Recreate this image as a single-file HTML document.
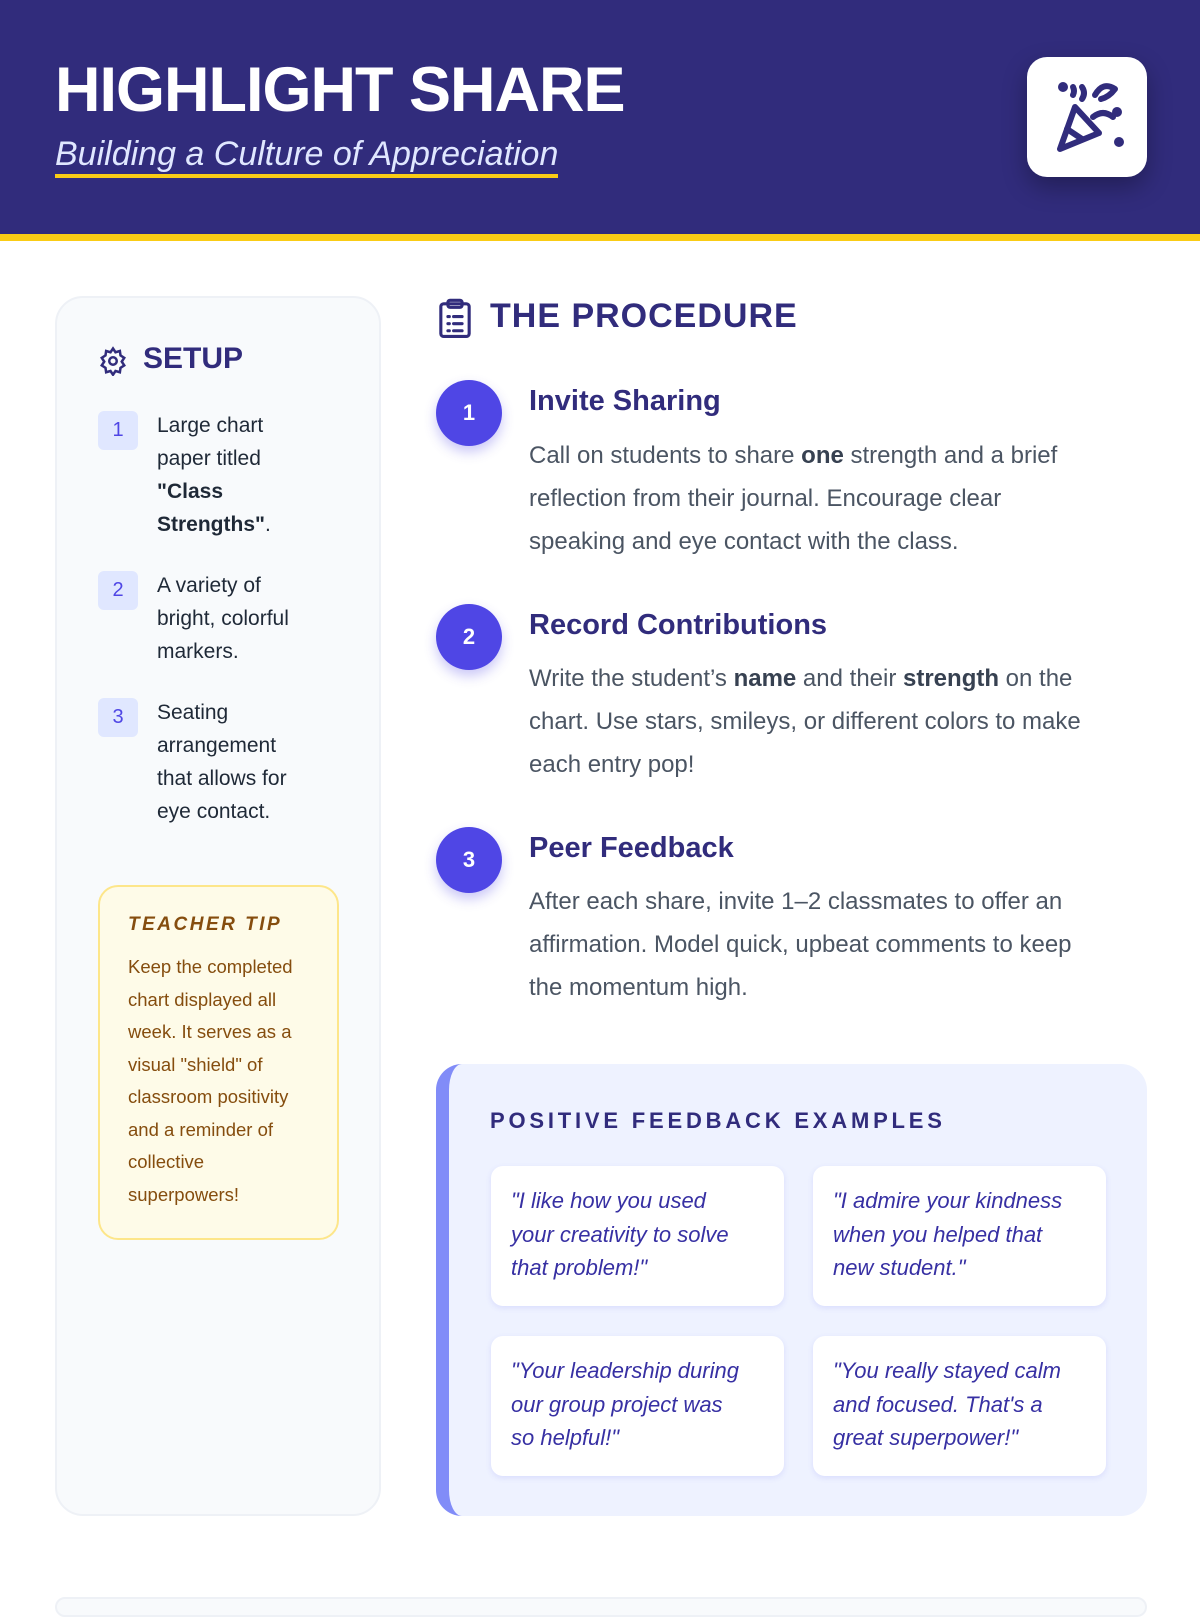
<!DOCTYPE html>
<html><head><meta charset="utf-8"><style>
*{margin:0;padding:0;box-sizing:border-box}
body{width:1200px;height:1600px;overflow:hidden;background:#fff;font-family:"Liberation Sans",sans-serif;position:relative}
.a{position:absolute}
.hdr{left:0;top:0;width:1200px;height:241px;background:#312c7c;border-bottom:7px solid #facc15}
h1{position:absolute;left:55px;top:54px;font-size:63px;font-weight:900;color:#fff;letter-spacing:-1px}
.sub{left:55px;top:134px;font-size:34px;font-style:italic;color:#e0e7ff;border-bottom:4px solid #facc15;line-height:40px}
.ibox{left:1027px;top:57px;width:120px;height:120px;background:#fff;border-radius:20px;box-shadow:0 10px 25px rgba(0,0,0,.3)}
.left{left:55px;top:296px;width:326px;height:1220px;background:#f8fafc;border:2px solid #eef1f6;border-radius:28px}
.lh{left:143px;top:342px;font-size:30px;font-weight:bold;color:#312c7c}
.badge{width:40px;height:39px;background:#e0e7ff;color:#4f46e5;border-radius:6px;font-size:20px;text-align:center;line-height:39px}
.lt{left:157px;width:155px;font-size:21px;line-height:33px;color:#1f2937}
.tip{left:98px;top:885px;width:241px;height:355px;background:#fefbe8;border:2px solid #fde68a;border-radius:20px}
.tip b{position:absolute;left:28px;top:27px;font-size:19px;font-style:italic;letter-spacing:2.5px;color:#854d0e}
.tip p{position:absolute;left:28px;top:64px;width:180px;font-size:18.5px;line-height:32.5px;color:#854d0e}
.ph{left:490px;top:297px;font-size:34px;font-weight:bold;color:#312c7c;letter-spacing:1px}
.c{width:66px;height:66px;border-radius:50%;background:#4f46e5;color:#fff;font-weight:bold;font-size:22px;text-align:center;line-height:66px;box-shadow:0 6px 12px rgba(79,70,229,.3)}
.t{left:529px;font-size:29px;font-weight:bold;color:#312c7c}
.b{left:529px;width:562px;font-size:24px;line-height:43px;color:#4b5563}
.b strong{color:#374151}
.fb{left:436px;top:1064px;width:711px;height:452px;background:#eef2ff;border-radius:26px;border-left:13px solid #818cf8}
.fh{left:490px;top:1108px;font-size:22px;font-weight:bold;color:#312c7c;letter-spacing:3.8px}
.card{width:293px;height:140px;background:#fff;border-radius:12px;box-shadow:0 2px 6px rgba(99,102,241,.15);padding:18px 35px 18px 20px;font-size:22px;line-height:33.5px;font-style:italic;color:#3730a3}
</style></head><body>
<div class="a hdr"></div>
<h1>HIGHLIGHT SHARE</h1>
<div class="a sub">Building a Culture of Appreciation</div>
<div class="a ibox"><svg width="120" height="120" viewBox="0 0 120 120" fill="none" stroke="#312c7c" stroke-width="6" stroke-linecap="round" stroke-linejoin="round"><path d="M33 92 L48 50 L72 76 Z"/><path d="M40 72 L55 82"/><circle cx="36" cy="30" r="2" fill="#312c7c"/><path d="M55 30 q4 6 0 12"/><path d="M68 38 q8-14 20-6 q-6 8-14 10"/><path d="M66 60 q10-8 20 0"/><circle cx="92" cy="85" r="2" fill="#312c7c"/><circle cx="90" cy="55" r="2" fill="#312c7c"/><path d="M46 30 q2 4 0 8"/></svg></div>

<div class="a left"></div>
<svg class="a" style="left:98px;top:346px" width="30" height="30" viewBox="0 0 24 24" fill="none" stroke="#312c7c" stroke-width="2"><circle cx="12" cy="12" r="3"/><path d="M12 2l2 3 3.5-1 .5 3.5 3 2-2 3 2 3-3 2-.5 3.5-3.5-1-2 3-2-3-3.5 1L6 17.5l-3-2 2-3-2-3 3-2L6.5 4l3.5 1z"/></svg>
<div class="a lh">SETUP</div>
<div class="a badge" style="left:98px;top:411px">1</div>
<div class="a lt" style="top:409px">Large chart paper titled <b>"Class Strengths"</b>.</div>
<div class="a badge" style="left:98px;top:571px">2</div>
<div class="a lt" style="top:569px">A variety of bright, colorful markers.</div>
<div class="a badge" style="left:98px;top:698px">3</div>
<div class="a lt" style="top:696px">Seating arrangement that allows for eye contact.</div>
<div class="a tip"><b>TEACHER TIP</b><p>Keep the completed chart displayed all week. It serves as a visual "shield" of classroom positivity and a reminder of collective superpowers!</p></div>

<svg class="a" style="left:438px;top:298px" width="34" height="40" viewBox="0 0 24 28" fill="none" stroke="#312c7c" stroke-width="2.2" stroke-linecap="round"><rect x="2" y="4" width="20" height="23" rx="2"/><rect x="7" y="1.5" width="10" height="5" rx="1.5"/><path d="M7 13h1M11 13h6M7 18h1M11 18h6M7 23h1M11 23h6"/></svg>
<div class="a ph">THE PROCEDURE</div>

<div class="a c" style="left:436px;top:380px">1</div>
<div class="a t" style="top:385px">Invite Sharing</div>
<div class="a b" style="top:434px">Call on students to share <strong>one</strong> strength and a brief reflection from their journal. Encourage clear speaking and eye contact with the class.</div>
<div class="a c" style="left:436px;top:604px">2</div>
<div class="a t" style="top:609px">Record Contributions</div>
<div class="a b" style="top:657px">Write the student’s <strong>name</strong> and their <strong>strength</strong> on the chart. Use stars, smileys, or different colors to make each entry pop!</div>
<div class="a c" style="left:436px;top:827px">3</div>
<div class="a t" style="top:832px">Peer Feedback</div>
<div class="a b" style="top:880px">After each share, invite 1–2 classmates to offer an affirmation. Model quick, upbeat comments to keep the momentum high.</div>

<div class="a fb"></div>
<div class="a fh">POSITIVE FEEDBACK EXAMPLES</div>
<div class="a card" style="left:491px;top:1166px">"I like how you used your creativity to solve that problem!"</div>
<div class="a card" style="left:813px;top:1166px">"I admire your kindness when you helped that new student."</div>
<div class="a card" style="left:491px;top:1336px">"Your leadership during our group project was so helpful!"</div>
<div class="a card" style="left:813px;top:1336px">"You really stayed calm and focused. That's a great superpower!"</div>
<div class="a" style="left:55px;top:1597px;width:1092px;height:20px;border:2px solid #eef1f6;border-radius:20px;background:#f8fafc"></div>
</body></html>
